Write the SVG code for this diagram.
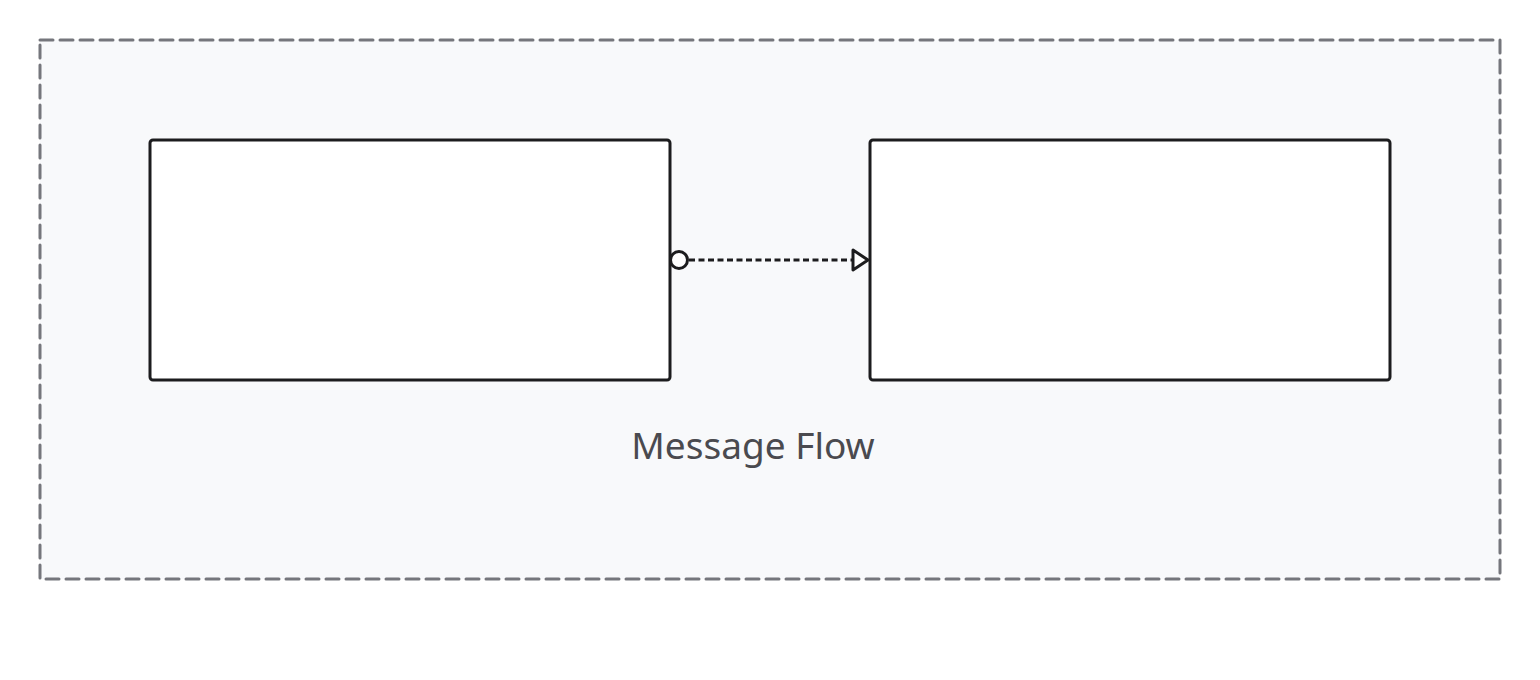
<svg xmlns="http://www.w3.org/2000/svg" width="1540" height="680" viewBox="0 0 1540 680">
<style>
.frame{fill:#f8f9fb;stroke:#75767c;stroke-width:3;stroke-dasharray:13 7;stroke-linecap:round}
.node{fill:#ffffff;stroke:#1c1c1e;stroke-width:3}
.conn{fill:none;stroke:#1c1c1e;stroke-width:3;stroke-dasharray:6 3.5}
.label{font-family:"Noto Sans","Open Sans",sans-serif;font-size:37px;fill:#4a4a4f}
</style>
<defs>
<marker id="startCircle" viewBox="0 0 22 22" refX="2" refY="11" markerWidth="22" markerHeight="22" markerUnits="userSpaceOnUse" orient="auto">
<circle cx="11" cy="11" r="8.5" fill="#ffffff" stroke="#1c1c1e" stroke-width="3"/>
</marker>
<marker id="openTri" viewBox="0 0 22 26" refX="19" refY="13" markerWidth="22" markerHeight="26" markerUnits="userSpaceOnUse" orient="auto">
<path d="M3,3 L18,13 L3,23 Z" fill="#ffffff" stroke="#1c1c1e" stroke-width="3" stroke-linejoin="round"/>
</marker>
</defs>
<g id="frame">
<rect class="frame" x="40" y="40" width="1460" height="539"/>
<text class="label" x="753" y="459" text-anchor="middle">Message Flow</text>
</g>
<g id="node-left">
<rect class="node" x="150" y="140" width="520" height="240" rx="3"/>
</g>
<g id="node-right">
<rect class="node" x="870" y="140" width="520" height="240" rx="3"/>
</g>
<g id="connectors">
<path class="conn" d="M670,260 L869,260" marker-start="url(#startCircle)" marker-end="url(#openTri)"/>
</g>
</svg>
